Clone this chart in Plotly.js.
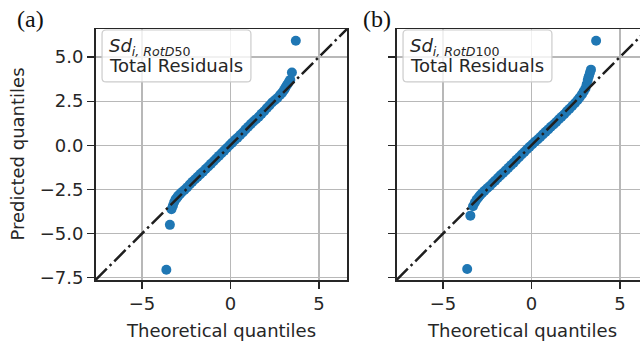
<!DOCTYPE html>
<html>
<head>
<meta charset="utf-8">
<script src="https://cdn.plot.ly/plotly-3.0.1.min.js"></script>
<style>
html, body { margin: 0; padding: 0; overflow: hidden; background: #fff; }
#chart { width: 660px; height: 344px; }
</style>
</head>
<body>
<div id="chart"></div>
<script>
// Panel (a): RotD50 total residuals, theoretical vs predicted quantiles
const theoA = [-3.62, -3.42, -3.33, -3.25, -3.18, -3.1, -3.02, -2.95, -2.85, -2.75, -2.6, -2.45, -2.3,
  -2.15, -2.0, -1.85, -1.7, -1.55, -1.4, -1.25, -1.1, -0.95, -0.8, -0.65, -0.5, -0.35, -0.2, -0.05,
  0.1, 0.25, 0.4, 0.55, 0.7, 0.85, 1.0, 1.15, 1.3, 1.45, 1.6, 1.75, 1.9, 2.05, 2.2, 2.35, 2.5, 2.65,
  2.8, 2.92, 3.02, 3.1, 3.18, 3.25, 3.32, 3.38, 3.47, 3.69];
const predA = [-7.04, -4.5, -3.62, -3.42, -3.22, -3.06, -2.96, -2.86, -2.76, -2.66, -2.53, -2.38, -2.22,
  -2.06, -1.92, -1.78, -1.63, -1.5, -1.34, -1.2, -1.05, -0.9, -0.75, -0.6, -0.45, -0.3, -0.15, 0.0,
  0.15, 0.3, 0.43, 0.58, 0.72, 0.9, 1.05, 1.2, 1.35, 1.48, 1.62, 1.78, 1.93, 2.1, 2.25, 2.42, 2.55, 2.68,
  2.85, 2.98, 3.12, 3.25, 3.4, 3.5, 3.62, 3.7, 4.12, 5.92];

// Panel (b): RotD100 total residuals
const theoB = [-3.63, -3.45, -3.3, -3.2, -3.1, -3.0, -2.9, -2.78, -2.65, -2.5, -2.35, -2.2, -2.05,
  -1.9, -1.75, -1.6, -1.45, -1.3, -1.15, -1.0, -0.85, -0.7, -0.55, -0.4, -0.25, -0.1, 0.05, 0.2, 0.35,
  0.5, 0.65, 0.8, 0.95, 1.1, 1.25, 1.4, 1.55, 1.7, 1.85, 2.0, 2.15, 2.3, 2.45, 2.6, 2.72, 2.85, 2.95,
  3.05, 3.12, 3.18, 3.24, 3.3, 3.36, 3.65];
const predB = [-7.0, -3.98, -3.45, -3.25, -3.08, -2.95, -2.83, -2.7, -2.57, -2.43, -2.3, -2.15, -2.0,
  -1.85, -1.7, -1.57, -1.42, -1.27, -1.12, -0.98, -0.82, -0.68, -0.52, -0.38, -0.22, -0.08, 0.06, 0.2, 0.33,
  0.47, 0.62, 0.76, 0.9, 1.05, 1.18, 1.32, 1.47, 1.62, 1.76, 1.92, 2.07, 2.22, 2.38, 2.55, 2.7, 2.88, 3.05,
  3.22, 3.45, 3.7, 3.9, 4.1, 4.28, 5.92];

const panelLabels = ['(a)', '(b)'];
const legendSubs = ['50', '100'];
const xTickVals = [-5, 0, 5];
const yTickVals = [-7.5, -5, -2.5, 0, 2.5, 5];
const axisRange = [-7.62, 6.58];

const W = 660, H = 344;
const FONT = 'DejaVu Sans';
const INK = '#262626';
const BLUE = '#1f77b4';

const lineXY = [axisRange[0], axisRange[1]];
const dashDot = {color: '#1f1f1f', width: 2.5, dash: '16px,4px,2.5px,4px'};

const traces = [
  {x: theoA, y: predA, xaxis: 'x', yaxis: 'y', mode: 'markers', type: 'scatter',
   marker: {color: BLUE, size: 10}, hoverinfo: 'skip'},
  {x: lineXY, y: lineXY, xaxis: 'x', yaxis: 'y', mode: 'lines', type: 'scatter',
   line: dashDot, hoverinfo: 'skip'},
  {x: theoB, y: predB, xaxis: 'x2', yaxis: 'y2', mode: 'markers', type: 'scatter',
   marker: {color: BLUE, size: 10}, hoverinfo: 'skip'},
  {x: lineXY, y: lineXY, xaxis: 'x2', yaxis: 'y2', mode: 'lines', type: 'scatter',
   line: dashDot, hoverinfo: 'skip'}
];

const yDom = [(H - 280) / H, (H - 29) / H];
const xDomA = [95.5 / W, 347 / W];
const xDomB = [396.5 / W, 648 / W];

function axisCommon(extra) {
  return Object.assign({
    range: axisRange, showgrid: true, gridcolor: '#b8b8b8', gridwidth: 1.2,
    zeroline: false, showline: true, linecolor: INK, linewidth: 1.5, mirror: true,
    ticks: 'outside', ticklen: 7, tickwidth: 1.2, tickcolor: INK,
    tickfont: {family: FONT, size: 18, color: INK}, fixedrange: true
  }, extra);
}

function roundedBox(xr, yr, x0, x1, y0, y1, r) {
  const path = `M ${x0 + r},${y1} L ${x1 - r},${y1} Q ${x1},${y1} ${x1},${y1 - r} ` +
    `L ${x1},${y0 + r} Q ${x1},${y0} ${x1 - r},${y0} L ${x0 + r},${y0} Q ${x0},${y0} ${x0},${y0 + r} ` +
    `L ${x0},${y1 - r} Q ${x0},${y1} ${x0 + r},${y1} Z`;
  return {type: 'path', xref: xr, yref: yr, path: path, layer: 'above',
    fillcolor: 'rgba(255,255,255,0.8)', line: {color: '#cccccc', width: 1.2}};
}

const shapes = [
  roundedBox('x domain', 'y domain', 0.026, 0.618, 0.789, 0.996, 0.016),
  roundedBox('x2 domain', 'y2 domain', 0.026, 0.618, 0.789, 0.996, 0.016)
];

const annotations = [];
const xrefs = [['x domain', 'y domain'], ['x2 domain', 'y2 domain']];
xrefs.forEach((ref, i) => {
  annotations.push({xref: ref[0], yref: ref[1], x: 0.045, y: 0.985, xanchor: 'left', yanchor: 'top',
    showarrow: false, align: 'left',
    text: '<i>Sd</i><sub><i>i, RotD</i>' + legendSubs[i] + '</sub>',
    font: {family: FONT, size: 18, color: INK}});
  annotations.push({xref: ref[0], yref: ref[1], x: 0.045, y: 0.805, xanchor: 'left', yanchor: 'bottom',
    showarrow: false, align: 'left', text: 'Total Residuals',
    font: {family: FONT, size: 18, color: INK}});
  annotations.push({xref: ref[0], yref: 'paper', x: 0.5, y: (H - 330) / H, xanchor: 'center', yanchor: 'middle',
    showarrow: false, text: 'Theoretical quantiles', font: {family: FONT, size: 18, color: INK}});
});
annotations.push({xref: 'paper', yref: 'y domain', x: 17 / W, y: 0.5, xanchor: 'center', yanchor: 'middle',
  textangle: -90, showarrow: false, text: 'Predicted quantiles', font: {family: FONT, size: 18, color: INK}});
annotations.push({xref: 'paper', yref: 'paper', x: 31 / W, y: (H - 19) / H, xanchor: 'center', yanchor: 'middle',
  showarrow: false, text: panelLabels[0], font: {family: 'Liberation Serif', size: 24, color: '#111'}});
annotations.push({xref: 'paper', yref: 'paper', x: 376.7 / W, y: (H - 19) / H, xanchor: 'center', yanchor: 'middle',
  showarrow: false, text: panelLabels[1], font: {family: 'Liberation Serif', size: 24, color: '#111'}});

const layout = {
  width: W, height: H,
  margin: {l: 0, r: 0, t: 0, b: 0},
  paper_bgcolor: '#ffffff', plot_bgcolor: '#ffffff',
  showlegend: false,
  font: {family: FONT, size: 18, color: INK},
  xaxis: axisCommon({domain: xDomA, anchor: 'y', tickvals: xTickVals}),
  yaxis: axisCommon({domain: yDom, anchor: 'x', tickvals: yTickVals, tickformat: '.1f'}),
  xaxis2: axisCommon({domain: xDomB, anchor: 'y2', tickvals: xTickVals}),
  yaxis2: axisCommon({domain: yDom, anchor: 'x2', tickvals: yTickVals, showticklabels: false}),
  shapes: shapes,
  annotations: annotations
};

Plotly.newPlot('chart', traces, layout, {displayModeBar: false, staticPlot: true});
</script>
</body>
</html>
